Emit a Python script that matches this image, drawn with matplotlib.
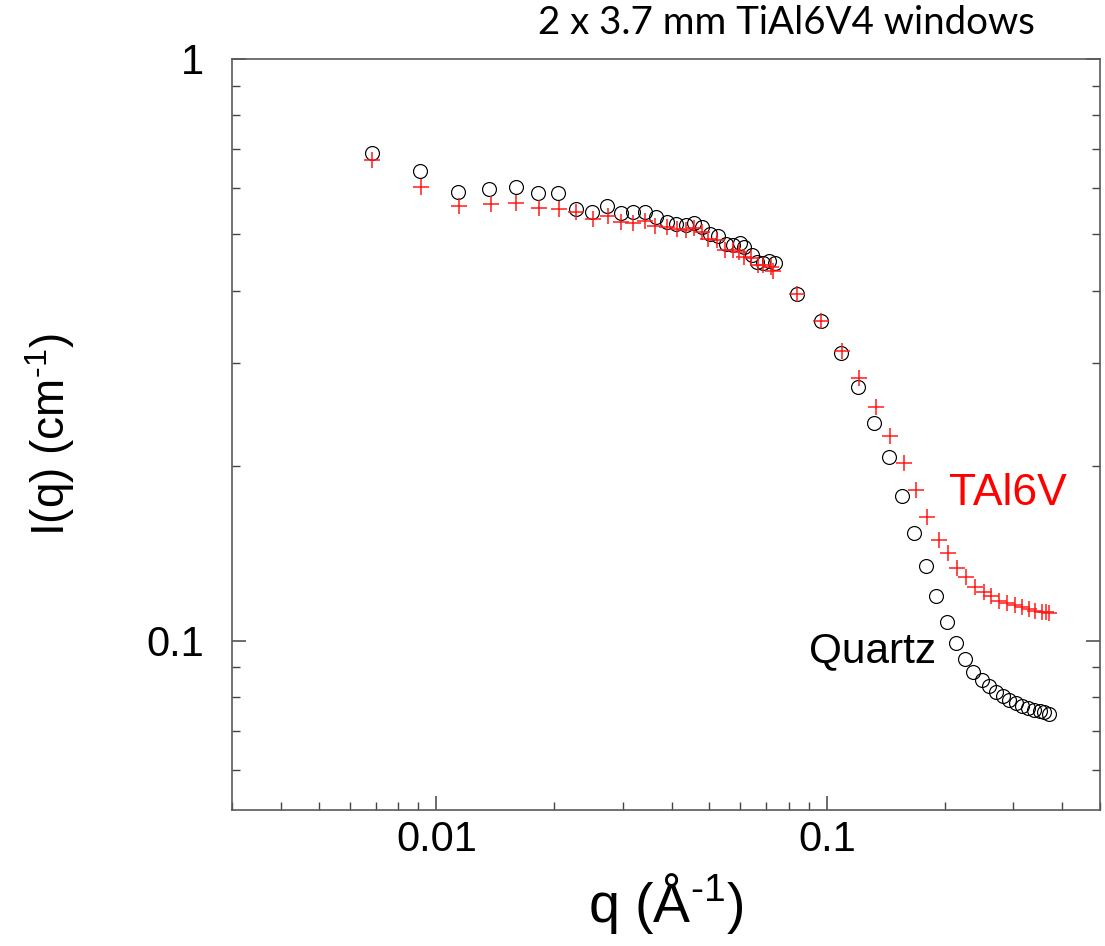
import matplotlib
matplotlib.use("Agg")
import matplotlib.pyplot as plt
from matplotlib.ticker import LogLocator, NullFormatter, FixedLocator, FixedFormatter

# ---- data ----
q_quartz = [0.006833, 0.009101, 0.01137, 0.01366, 0.01595, 0.01823, 0.02051, 0.02277,
            0.02506, 0.02737, 0.02965, 0.03190, 0.03423, 0.03642, 0.03893, 0.04110,
            0.04346, 0.04569, 0.04798, 0.05006, 0.05254, 0.05507, 0.05749, 0.05992,
            0.06134, 0.06418, 0.06622, 0.06859, 0.07107, 0.07348,
            0.08395, 0.09632, 0.1084, 0.1203, 0.1319, 0.1441, 0.1558, 0.1673, 0.1788,
            0.1906, 0.2025, 0.2138, 0.2254, 0.2370, 0.2487, 0.2597, 0.2702, 0.2815,
            0.2926, 0.3044, 0.3159, 0.3267, 0.3395, 0.3507, 0.3601, 0.3697]
I_quartz = [0.6887, 0.6407, 0.5916, 0.5979, 0.6015, 0.5892, 0.5878, 0.5523,
            0.5451, 0.5595, 0.5447, 0.5464, 0.5458, 0.5351, 0.5246, 0.5195,
            0.5191, 0.5226, 0.5134, 0.5003, 0.4960, 0.4813, 0.4790, 0.4828,
            0.4753, 0.4604, 0.4484, 0.4467, 0.4497, 0.4467,
            0.3946, 0.3550, 0.3129, 0.2729, 0.2366, 0.2068, 0.1774, 0.1535, 0.1347,
            0.1195, 0.1076, 0.09909, 0.09324, 0.08856, 0.08561, 0.08361, 0.08165, 0.08035,
            0.07919, 0.07826, 0.07733, 0.07673, 0.07611, 0.07581, 0.07536, 0.07501]

q_tal6v = [0.006849, 0.009138, 0.01142, 0.01377, 0.01602, 0.01834, 0.02063, 0.02281,
           0.02521, 0.02745, 0.02968, 0.03190, 0.03430, 0.03632, 0.03898, 0.04134,
           0.04346, 0.04561, 0.04789, 0.04970, 0.05226, 0.05469, 0.05732, 0.05956,
           0.06134, 0.06381, 0.06673, 0.06872, 0.07178, 0.07276,
           0.08395, 0.09669, 0.1090, 0.1207, 0.1332, 0.1449, 0.1573, 0.1687, 0.1805,
           0.1930, 0.2042, 0.2154, 0.2270, 0.2391, 0.2516, 0.2634, 0.2754, 0.2882,
           0.3020, 0.3149, 0.3286, 0.3410, 0.3543, 0.3632, 0.3708]
I_tal6v = [0.6693, 0.6019, 0.5585, 0.5634, 0.5645, 0.5552, 0.5523, 0.5451,
           0.5302, 0.5372, 0.5236, 0.5233, 0.5263, 0.5164, 0.5149, 0.5099,
           0.5091, 0.5119, 0.5033, 0.4909, 0.4887, 0.4697, 0.4697, 0.4665,
           0.4574, 0.4545, 0.4426, 0.4426, 0.4386, 0.4328,
           0.3946, 0.3550, 0.3153, 0.2827, 0.2527, 0.2250, 0.2024, 0.1813, 0.1635,
           0.1493, 0.1414, 0.1336, 0.1285, 0.1238, 0.1211, 0.1192, 0.1173, 0.1162,
           0.1153, 0.1145, 0.1136, 0.1127, 0.1123, 0.1119, 0.1116]

x_major = [0.01, 0.1]
x_major_labels = ["0.01", "0.1"]
y_major = [0.1, 1]
y_major_labels = ["0.1", "1"]

title_text = "2 x 3.7 mm TiAl6V4 windows"
label_quartz = "Quartz"
label_tal6v = "TAl6V"

# ---- style ----
plt.rcParams["font.family"] = ["Liberation Sans", "DejaVu Sans"]
plt.rcParams["mathtext.fontset"] = "custom"
plt.rcParams["mathtext.rm"] = "Liberation Sans"
plt.rcParams["mathtext.it"] = "Liberation Sans:italic"
plt.rcParams["mathtext.bf"] = "Liberation Sans:bold"

fig = plt.figure(figsize=(11.05, 9.46), dpi=100)
ax = fig.add_axes([0.21, 1 - 810 / 946, 868 / 1105, 751 / 946])

ax.plot(q_quartz, I_quartz, linestyle="none", marker="o", markersize=10,
        markerfacecolor="none", markeredgecolor="black", markeredgewidth=0.85)
ax.plot(q_tal6v, I_tal6v, linestyle="none", marker="+", markersize=12,
        color="#ff1a1a", markeredgewidth=1.1)

ax.set_xscale("log")
ax.set_yscale("log")
ax.set_xlim(0.003, 0.5)
ax.set_ylim(0.0512, 1.0)

ax.xaxis.set_major_locator(FixedLocator(x_major))
ax.xaxis.set_major_formatter(FixedFormatter(x_major_labels))
ax.yaxis.set_major_locator(FixedLocator(y_major))
ax.yaxis.set_major_formatter(FixedFormatter(y_major_labels))
ax.xaxis.set_minor_locator(LogLocator(base=10, subs=range(2, 10)))
ax.yaxis.set_minor_locator(LogLocator(base=10, subs=range(2, 10)))
ax.xaxis.set_minor_formatter(NullFormatter())
ax.yaxis.set_minor_formatter(NullFormatter())

spine_col = "#5a5a5a"
for s in ax.spines.values():
    s.set_color(spine_col)
    s.set_linewidth(1.2)

ax.tick_params(which="both", direction="in", top=False, right=True, color="#444444")
ax.tick_params(which="major", length=10, width=1.1, labelsize=30)
ax.tick_params(axis="x", which="major", pad=7)
ax.tick_params(axis="y", which="major", pad=20)
ax.tick_params(which="minor", length=5.5, width=1.0)

ax.set_xlabel(r"q (Å$^{\text{-1}}$)", fontsize=40, labelpad=8)
ax.set_ylabel(r"I(q) (cm$^{\text{-1}}$)", fontsize=33, labelpad=50)

fig.text(1067 / 1105, 1 - 505 / 946, label_tal6v, color="#ff0000",
         fontsize=32, ha="right", va="baseline")
fig.text(936 / 1105, 1 - 662 / 946, label_quartz, color="black",
         fontsize=30.5, ha="right", va="baseline")

fig.text(1035 / 1105, 1 - 34 / 946, title_text, fontsize=27.7, ha="right", va="baseline",
         family=["Lato", "DejaVu Sans"])

fig.savefig("out.png", dpi=100)
